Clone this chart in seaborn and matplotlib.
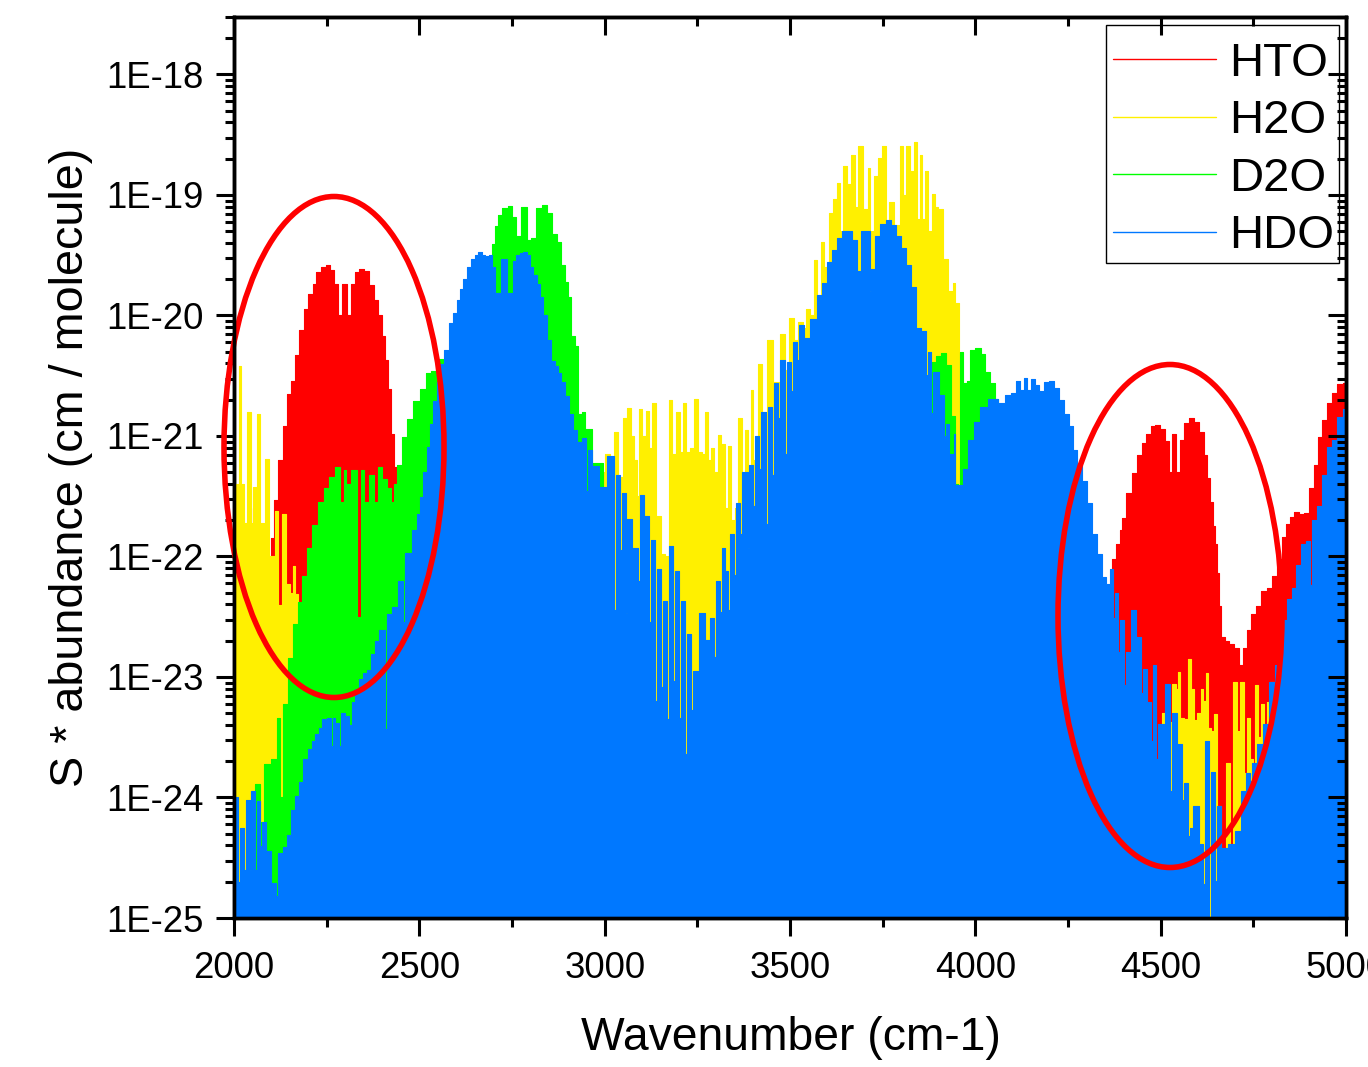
import numpy as np
import pandas as pd
import matplotlib.pyplot as plt
import seaborn as sns
from matplotlib.patches import Ellipse, Rectangle

# (wavenumber, log10 of S*abundance)
hto = [(2050, -25), (2053, -21.6), (2058, -21.6), (2061, -25),
       (2096, -25), (2102, -21.85), (2112, -21.53), (2124, -21.20), (2138, -20.92), (2148, -20.65),
       (2160, -20.54), (2169, -20.33), (2183, -20.12), (2194, -19.95), (2207, -19.82), (2218, -19.74),
       (2227, -19.64), (2241, -19.60), (2254, -19.58), (2265, -19.62), (2277, -19.74), (2286, -20.0),
       (2298, -19.74), (2310, -20.0), (2322, -19.74), (2331, -19.64), (2344, -19.61), (2358, -19.63),
       (2371, -19.75), (2382, -19.87), (2394, -20.0), (2403, -20.17), (2412, -20.37), (2419, -20.61),
       (2430, -20.98), (2436, -21.26), (2441, -21.40), (2446, -25),
       (3325, -25), (3336, -21.82), (3345, -25),
       (4355, -25), (4363, -22.35), (4374, -22.02), (4386, -21.90), (4393, -21.78), (4399, -21.68),
       (4415, -21.47), (4431, -21.31), (4442, -21.16), (4455, -21.06), (4467, -20.98), (4480, -20.92),
       (4491, -20.91), (4503, -20.94), (4521, -21.04), (4525, -21.30), (4537, -20.98), (4548, -21.30),
       (4557, -21.03), (4567, -20.89), (4584, -20.85), (4597, -20.88), (4611, -20.97), (4621, -21.16),
       (4629, -21.35), (4638, -21.55), (4644, -21.75), (4649, -21.90), (4654, -22.14), (4660, -22.41),
       (4667, -22.67), (4678, -22.70), (4692, -22.73), (4705, -22.76), (4718, -22.90), (4725, -22.76),
       (4739, -22.61), (4750, -22.48), (4763, -22.41), (4777, -22.29), (4795, -22.26), (4804, -22.16),
       (4822, -22.02), (4831, -21.84), (4844, -21.73), (4853, -21.67), (4865, -21.63), (4880, -21.65),
       (4894, -21.64), (4907, -21.43), (4921, -21.24), (4930, -21.01), (4943, -20.87), (4957, -20.73),
       (4970, -20.64), (4984, -20.57), (5000, -20.56)]

h2o = [(2000, -21.4), (2009, -21.4), (2016, -20.42), (2023, -21.4), (2030, -21.72), (2040, -20.80),
       (2050, -21.72), (2055, -21.42), (2064, -20.82), (2076, -21.72), (2091, -21.19), (2100, -22.0),
       (2106, -22.0), (2115, -21.62), (2125, -22.4), (2136, -21.65), (2147, -22.23), (2155, -22.3),
       (2162, -22.08), (2169, -22.31), (2178, -22.6), (2200, -23.0), (2230, -23.5), (2260, -25),
       (2980, -25), (2990, -21.3), (3010, -21.15), (3019, -21.3), (3031, -20.97), (3043, -21.34),
       (3055, -20.85), (3066, -20.77), (3075, -21.0), (3082, -21.20), (3090, -21.5), (3097, -20.78),
       (3106, -21.0), (3116, -20.79), (3125, -21.1), (3133, -20.73), (3145, -21.66), (3158, -21.98),
       (3170, -22.0), (3178, -20.70), (3188, -21.15), (3198, -20.80), (3206, -21.13), (3214, -20.73),
       (3226, -21.13), (3237, -21.1), (3246, -20.69), (3259, -21.13), (3267, -21.15), (3275, -20.80),
       (3283, -21.2), (3291, -21.10), (3300, -21.3), (3309, -20.99), (3320, -21.07), (3328, -21.6),
       (3336, -21.08), (3346, -21.7), (3355, -21.6), (3365, -20.85), (3374, -21.4), (3383, -20.95),
       (3390, -21.3), (3397, -20.62), (3406, -21.2), (3419, -20.40), (3432, -20.8), (3446, -20.20),
       (3462, -20.55), (3482, -20.15), (3492, -20.45), (3504, -20.02), (3516, -20.2), (3529, -20.05),
       (3540, -20.1), (3549, -19.95), (3560, -20.0), (3568, -19.54), (3578, -19.85), (3587, -19.39),
       (3598, -19.6), (3610, -19.15), (3621, -19.03), (3630, -18.90), (3640, -19.3), (3648, -18.76),
       (3660, -18.91), (3671, -18.67), (3680, -19.1), (3689, -18.59), (3707, -19.12), (3712, -18.78),
       (3722, -19.3), (3732, -18.84), (3745, -18.69), (3754, -18.59), (3763, -19.25), (3772, -19.06),
       (3790, -19.25), (3801, -18.59), (3810, -19.0), (3817, -18.59), (3828, -18.80), (3839, -18.56),
       (3846, -19.2), (3853, -18.67), (3861, -19.2), (3869, -18.80), (3878, -19.3), (3887, -18.99),
       (3896, -19.1), (3905, -19.12), (3920, -19.53), (3935, -19.8), (3942, -19.73), (3950, -19.90),
       (3954, -19.90), (3958, -25),
       (4495, -25), (4512, -23.30), (4525, -23.37), (4537, -23.06), (4544, -23.1), (4550, -22.96),
       (4557, -23.34), (4570, -23.35), (4577, -22.85), (4585, -23.1), (4593, -23.36), (4604, -23.3),
       (4611, -23.10), (4620, -23.2), (4624, -22.97), (4633, -23.42), (4640, -23.45), (4649, -23.31),
       (4657, -24.07), (4668, -24.5), (4682, -23.71), (4692, -24.4), (4700, -23.04), (4710, -23.45),
       (4720, -23.04), (4728, -23.8), (4736, -23.34), (4745, -23.68), (4752, -23.8), (4759, -23.07),
       (4768, -23.5), (4775, -23.22), (4783, -23.5), (4790, -23.21), (4801, -23.04), (4810, -25)]
h2o_gaps = [(2055, -23.43)]

d2o = [(2045, -25), (2066, -23.89), (2075, -24.2), (2088, -23.72), (2110, -23.68), (2121, -23.34),
       (2129, -24.0), (2138, -23.22), (2151, -22.84), (2169, -22.56), (2178, -22.38), (2187, -22.16),
       (2205, -21.93), (2218, -21.74), (2236, -21.55), (2250, -21.43), (2263, -21.34), (2281, -21.26),
       (2292, -21.55), (2299, -21.28), (2308, -21.40), (2322, -21.28), (2329, -21.28), (2337, -22.5),
       (2346, -21.28), (2358, -21.55), (2371, -21.32), (2385, -21.55), (2391, -21.26), (2407, -21.36),
       (2421, -21.43), (2428, -21.55), (2434, -21.40), (2448, -21.24), (2461, -21.01), (2475, -20.86),
       (2493, -20.71), (2511, -20.61), (2524, -20.48), (2540, -20.46), (2560, -20.36), (2570, -25),
       (2685, -25), (2691, -19.51), (2700, -19.41), (2709, -19.26), (2717, -19.17), (2731, -19.11),
       (2745, -19.09), (2756, -19.18), (2765, -19.34), (2785, -19.10), (2796, -19.37), (2807, -19.36),
       (2821, -19.11), (2839, -19.08), (2852, -19.15), (2866, -19.32), (2879, -19.39), (2888, -19.58),
       (2897, -19.72), (2906, -19.85), (2915, -20.17), (2924, -20.25), (2933, -20.82), (2942, -20.80),
       (2951, -20.94), (2983, -21.22), (3010, -21.6), (3020, -25),
       (3880, -25), (3887, -20.39), (3900, -20.34), (3914, -20.31), (3927, -20.41), (3941, -20.83),
       (3950, -21.4), (3954, -21.5), (3963, -20.30), (3972, -20.56), (3981, -20.54), (3990, -20.29),
       (4008, -20.27), (4022, -20.32), (4031, -20.47), (4049, -20.56), (4058, -20.69), (4066, -25)]

hdo = [(2000, -24.0), (2006, -24.0), (2021, -24.25), (2037, -24.02), (2052, -23.95), (2066, -24.03),
       (2080, -24.2), (2094, -24.44), (2108, -24.71), (2124, -24.46), (2140, -24.41),
       (2147, -24.31), (2160, -24.10), (2169, -23.99), (2180, -23.87), (2192, -23.68), (2205, -23.6),
       (2214, -23.53), (2225, -23.47), (2232, -23.42), (2245, -23.35), (2259, -23.34), (2268, -23.34),
       (2277, -23.38), (2290, -23.30), (2304, -23.32), (2312, -23.4), (2322, -23.21), (2333, -23.1),
       (2344, -23.02), (2353, -22.97), (2362, -22.94), (2376, -22.81), (2387, -22.7), (2398, -22.61),
       (2416, -22.48), (2434, -22.42), (2452, -22.20), (2470, -21.97), (2488, -21.78), (2497, -21.65),
       (2506, -21.51), (2515, -21.3), (2524, -21.09), (2533, -20.9), (2542, -20.71), (2551, -20.55),
       (2560, -20.40), (2574, -20.29), (2587, -20.06), (2596, -19.98), (2605, -19.87), (2614, -19.78),
       (2623, -19.70), (2635, -19.6), (2646, -19.53), (2655, -19.5), (2664, -19.47), (2673, -19.5),
       (2682, -19.51), (2692, -19.5), (2700, -19.60), (2707, -19.81), (2716, -19.81), (2722, -19.53),
       (2731, -19.53), (2740, -19.81), (2748, -19.81), (2756, -19.55), (2767, -19.50), (2776, -19.48),
       (2785, -19.47), (2794, -19.5), (2803, -19.60), (2812, -19.66), (2821, -19.74), (2830, -19.85),
       (2839, -20.0), (2850, -20.2), (2861, -20.38), (2870, -20.42), (2879, -20.48), (2888, -20.55),
       (2897, -20.67), (2911, -20.82), (2920, -20.95), (2929, -21.05), (2947, -21.02), (2960, -21.12),
       (2974, -21.25), (2996, -21.42), (3019, -21.17), (3037, -21.32), (3050, -21.47), (3068, -21.69),
       (3082, -21.93), (3100, -21.49), (3113, -21.66), (3131, -21.86), (3147, -22.10), (3163, -22.37),
       (3181, -21.91), (3196, -22.12), (3212, -22.37), (3228, -22.64), (3244, -22.95), (3263, -22.47),
       (3277, -22.69), (3290, -22.51), (3304, -22.20), (3320, -21.93), (3329, -22.12), (3343, -21.81),
       (3358, -21.56), (3372, -21.30), (3394, -21.24), (3410, -21.0), (3426, -20.80), (3446, -20.76),
       (3461, -20.56), (3477, -20.37), (3498, -20.39), (3513, -20.22), (3529, -20.08), (3545, -20.19),
       (3563, -20.03), (3581, -19.83), (3594, -19.73), (3608, -19.56), (3621, -19.46), (3635, -19.36),
       (3648, -19.30), (3662, -19.30), (3675, -19.37), (3684, -19.63), (3698, -19.30), (3707, -19.3),
       (3720, -19.61), (3734, -19.34), (3752, -19.24), (3765, -19.21), (3779, -19.25), (3792, -19.34),
       (3806, -19.44), (3819, -19.58), (3833, -19.76), (3846, -20.10), (3860, -20.13), (3876, -20.30),
       (3896, -20.47), (3909, -20.66), (3923, -20.90), (3941, -21.15), (3959, -21.41), (3972, -21.27),
       (3990, -21.03), (4004, -20.88), (4022, -20.76), (4049, -20.69), (4071, -20.73), (4089, -20.66),
       (4103, -20.64), (4116, -20.54), (4125, -20.62), (4135, -20.52), (4145, -20.62), (4155, -20.53),
       (4165, -20.58), (4179, -20.63), (4192, -20.55), (4206, -20.54), (4219, -20.60), (4233, -20.70),
       (4246, -20.82), (4260, -20.92), (4269, -21.12), (4281, -21.24), (4293, -21.37), (4309, -21.56),
       (4323, -21.81), (4336, -21.98), (4345, -22.17), (4359, -22.23), (4368, -22.10), (4383, -22.30),
       (4397, -22.53), (4413, -22.79), (4426, -22.44), (4442, -22.67), (4455, -22.93), (4471, -23.21),
       (4485, -22.90), (4503, -23.39), (4519, -23.06), (4536, -23.30), (4552, -23.56), (4567, -23.88),
       (4581, -24.25), (4595, -24.07), (4611, -24.39), (4624, -23.53), (4640, -23.79), (4657, -24.07),
       (4667, -24.42), (4692, -24.39), (4709, -24.28), (4723, -23.95), (4741, -23.80), (4754, -23.71),
       (4768, -23.56), (4786, -23.39), (4801, -23.04), (4817, -22.90), (4835, -22.53), (4849, -22.35),
       (4860, -22.26), (4871, -22.07), (4885, -21.90), (4898, -21.87), (4912, -21.70), (4925, -21.58),
       (4943, -21.32), (4957, -21.09), (4970, -21.03), (4984, -20.84), (5000, -20.78)]

# narrow gaps in the HDO lines that let the layers below show through
hdo_gaps = [(2014.5, -24.7), (2029, -24.6), (2044.5, -24.6), (2059, -24.6), (2073.5, -24.4), (2117, -24.82),
            (2131, -24.6), (2265, -23.57), (2285, -23.57), (2301, -23.45), (2409, -23.43), (2459, -22.54),
            (2953, -21.46), (3028, -22.44), (3043, -21.95), (3059, -22.47), (3093, -22.20), (3122, -22.54),
            (3138, -23.20), (3154, -23.08), (3170, -23.35), (3188, -23.03), (3204, -23.34), (3219, -23.64),
            (3236, -23.27), (3297, -22.83), (3313, -22.46), (3335, -22.44), (3351, -22.15), (3367, -21.81),
            (3388, -21.93), (3403, -21.58), (3419, -21.27), (3439, -21.73), (3455, -21.32), (3470, -20.85),
            (3490, -21.15), (3506, -20.63), (3522, -20.37), (3717, -19.80), (3870, -20.49), (3884, -20.81),
            (3918, -21.0), (3942, -20.98), (4374, -22.51), (4388, -22.79), (4403, -23.07), (4449, -23.13),
            (4477, -23.53), (4491, -23.68), (4528, -23.95), (4561, -24.02), (4576, -24.32), (4617, -24.72),
            (4633, -24.99), (4649, -24.69), (4665, -24.53), (4743, -23.86), (4906, -22.24), (4921, -21.81)]

names = ['HTO', 'H2O', 'D2O', 'HDO']
colors = ['#ff0000', '#fff000', '#00ff00', '#0078ff']
x_ticks = [2000, 2500, 3000, 3500, 4000, 4500, 5000]
x_minor = [2250, 2750, 3250, 3750, 4250, 4750]
y_ticks = [1e-25, 1e-24, 1e-23, 1e-22, 1e-21, 1e-20, 1e-19, 1e-18]
y_labels = ['1E-25', '1E-24', '1E-23', '1E-22', '1E-21', '1E-20', '1E-19', '1E-18']


def with_gaps(points, gaps):
    pts = sorted(points)
    out = list(pts)
    for d, low in gaps:
        before = [p[1] for p in pts if p[0] <= d][-1]
        after = [p[1] for p in pts if p[0] >= d][0]
        out += [(d - 5, before), (d, low), (d + 5, after)]
    return sorted(out)


def style_ticks(axis, which_dir):
    axis.tick_params(which='major', direction=which_dir, length=13, width=2.2, color='black')
    axis.tick_params(which='minor', direction=which_dir, length=6.5, width=2.2, color='black')


sns.set_theme(style='ticks')
plt.rcParams['font.family'] = ['Liberation Sans', 'DejaVu Sans']
plt.rcParams['text.color'] = 'black'
plt.rcParams['axes.labelcolor'] = 'black'
plt.rcParams['xtick.labelcolor'] = 'black'
plt.rcParams['ytick.labelcolor'] = 'black'

fig = plt.figure(figsize=(13.68, 10.67), dpi=100)
ax = fig.add_axes([234 / 1368, (1067 - 918) / 1067, 1112 / 1368, 901 / 1067])

series = [hto, with_gaps(h2o, h2o_gaps), d2o, with_gaps(hdo, hdo_gaps)]
for z, (name, color, pts) in enumerate(zip(names, colors, series)):
    df = pd.DataFrame(pts, columns=['wn', 'logS'])
    df['S'] = 10.0 ** df['logS']
    ax.fill_between(df['wn'], df['S'], 1e-25, step='mid', color=color, lw=0, zorder=2 + z)
    sns.lineplot(data=df, x='wn', y='S', color=color, estimator=None, sort=False,
                 drawstyle='steps-mid', linewidth=0.8, label=name, zorder=2 + z, ax=ax)

ax.set_yscale('log')
ax.set_xlim(2000, 5000)
ax.set_ylim(1e-25, 3e-18)
ax.set_xticks(x_ticks)
ax.set_xticks(x_minor, minor=True)
ax.set_yticks(y_ticks, y_labels)
ax.yaxis.set_minor_locator(plt.LogLocator(base=10, subs=range(2, 10), numticks=30))
ax.yaxis.set_minor_formatter(plt.NullFormatter())
ax.tick_params(axis='x', labelsize=26.3, pad=10.5)
ax.tick_params(axis='y', labelsize=26.3, pad=9)
style_ticks(ax, 'out')

ax.set_xlabel('Wavenumber (cm-1)', fontsize=33.3, va='center')
ax.set_ylabel('S * abundance (cm / molecule)', fontsize=33.7, va='center')
ax.xaxis.set_label_coords(0.501, -0.1335)
ax.yaxis.set_label_coords(-0.1465, 0.5)

# right and top sides carry inward ticks
right = ax.twinx()
right.set_yscale('log')
right.set_ylim(ax.get_ylim())
right.set_yticks(y_ticks)
right.yaxis.set_minor_locator(plt.LogLocator(base=10, subs=range(2, 10), numticks=30))
right.yaxis.set_minor_formatter(plt.NullFormatter())
right.tick_params(labelright=False)
style_ticks(right, 'in')
top = ax.twiny()
top.set_xlim(ax.get_xlim())
top.set_xticks(x_ticks)
top.set_xticks(x_minor, minor=True)
top.tick_params(labeltop=False)
style_ticks(top, 'in')
for a in (ax, right, top):
    for s in a.spines.values():
        s.set_linewidth(2.4)
        s.set_color('black')

for cx, cy, w, h in [(334, 447, 220, 501), (1170, 616, 224, 503)]:
    ax.add_patch(Ellipse(((cx - 234) / 1112, (918 - cy) / 901), w / 1112, h / 901, transform=ax.transAxes,
                         fill=False, edgecolor='#ff0000', lw=4, zorder=10, clip_on=False))

# legend box is drawn apart so its padding can differ between the sides
ax.add_patch(Rectangle(((1106 - 234) / 1112, (918 - 263) / 901), 233 / 1112, 238 / 901, transform=ax.transAxes,
                       facecolor='white', edgecolor='black', lw=1, zorder=19))
leg = ax.legend(loc='upper left', bbox_to_anchor=((1113 - 234) / 1112, (918 - 42) / 901), borderaxespad=0,
                fontsize=34, frameon=False, handlelength=2.18, handletextpad=0.28, borderpad=0, labelspacing=0.285)
leg.set_zorder(20)
for line in leg.get_lines():
    line.set_linewidth(1.0)

fig.savefig('out.png', dpi=100)
